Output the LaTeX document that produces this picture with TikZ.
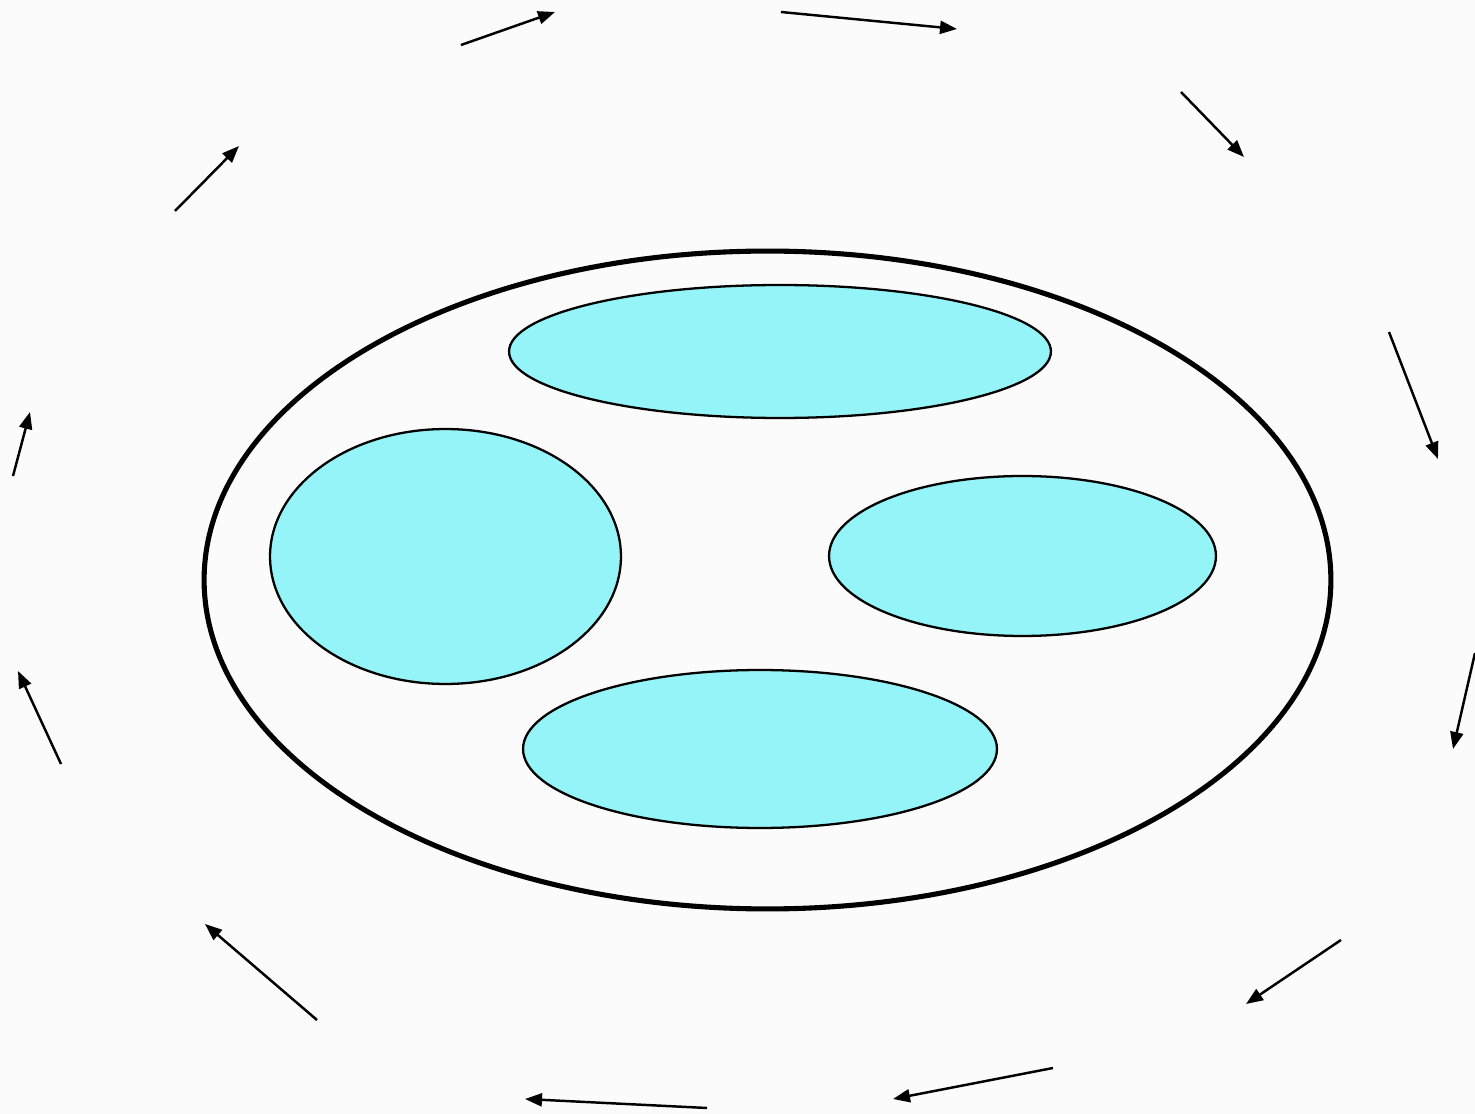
\documentclass[tikz,border=0pt]{standalone}
\usetikzlibrary{arrows.meta,shapes.geometric}
\definecolor{bgc}{HTML}{FBFBFB}
\definecolor{cyanfill}{HTML}{94F4F8}
\tikzset{
  blob/.style={ellipse, draw=black, fill=cyanfill, line width=1.3pt, inner sep=0pt},
  outer/.style={ellipse, draw=black, fill=bgc, line width=2.9pt, inner sep=0pt},
  flow/.style={line width=1.4pt, -{Triangle[length=0.34cm,width=0.26cm]}}
}
\begin{document}
\begin{tikzpicture}[x=0.02cm,y=-0.02cm]
\fill[bgc] (0,0) rectangle (1475,1114);
\useasboundingbox (0,0) rectangle (1475,1114);
\node[outer, minimum width=22.54cm, minimum height=13.16cm] (O) at (767.5,580) {};
\node[blob, minimum width=10.84cm, minimum height=2.66cm] (T) at (780,351.5) {};
\node[blob, minimum width=7.02cm, minimum height=5.10cm] (L) at (445.5,556.5) {};
\node[blob, minimum width=7.74cm, minimum height=3.2cm] (R) at (1022.5,556) {};
\node[blob, minimum width=9.48cm, minimum height=3.16cm] (B) at (760,749) {};
\coordinate (a1) at (461,45);   \coordinate (b1) at (555,12);
\coordinate (a2) at (781,12);   \coordinate (b2) at (957,29);
\coordinate (a3) at (1181,92);  \coordinate (b3) at (1244,157);
\coordinate (a4) at (1389,332); \coordinate (b4) at (1438,459);
\coordinate (a5) at (1475,653); \coordinate (b5) at (1453,749);
\coordinate (a6) at (1341,940); \coordinate (b6) at (1246,1004);
\coordinate (a7) at (1053,1068);\coordinate (b7) at (893,1099);
\coordinate (a8) at (707,1108); \coordinate (b8) at (525,1099);
\coordinate (a9) at (317,1020); \coordinate (b9) at (205,924);
\coordinate (a10) at (61,764);  \coordinate (b10) at (18,671);
\coordinate (a11) at (13,476);  \coordinate (b11) at (30,412);
\coordinate (a12) at (175,211); \coordinate (b12) at (239,146);
\foreach \i in {1,...,12} {\draw[flow] (a\i) -- (b\i);}
\end{tikzpicture}
\end{document}
